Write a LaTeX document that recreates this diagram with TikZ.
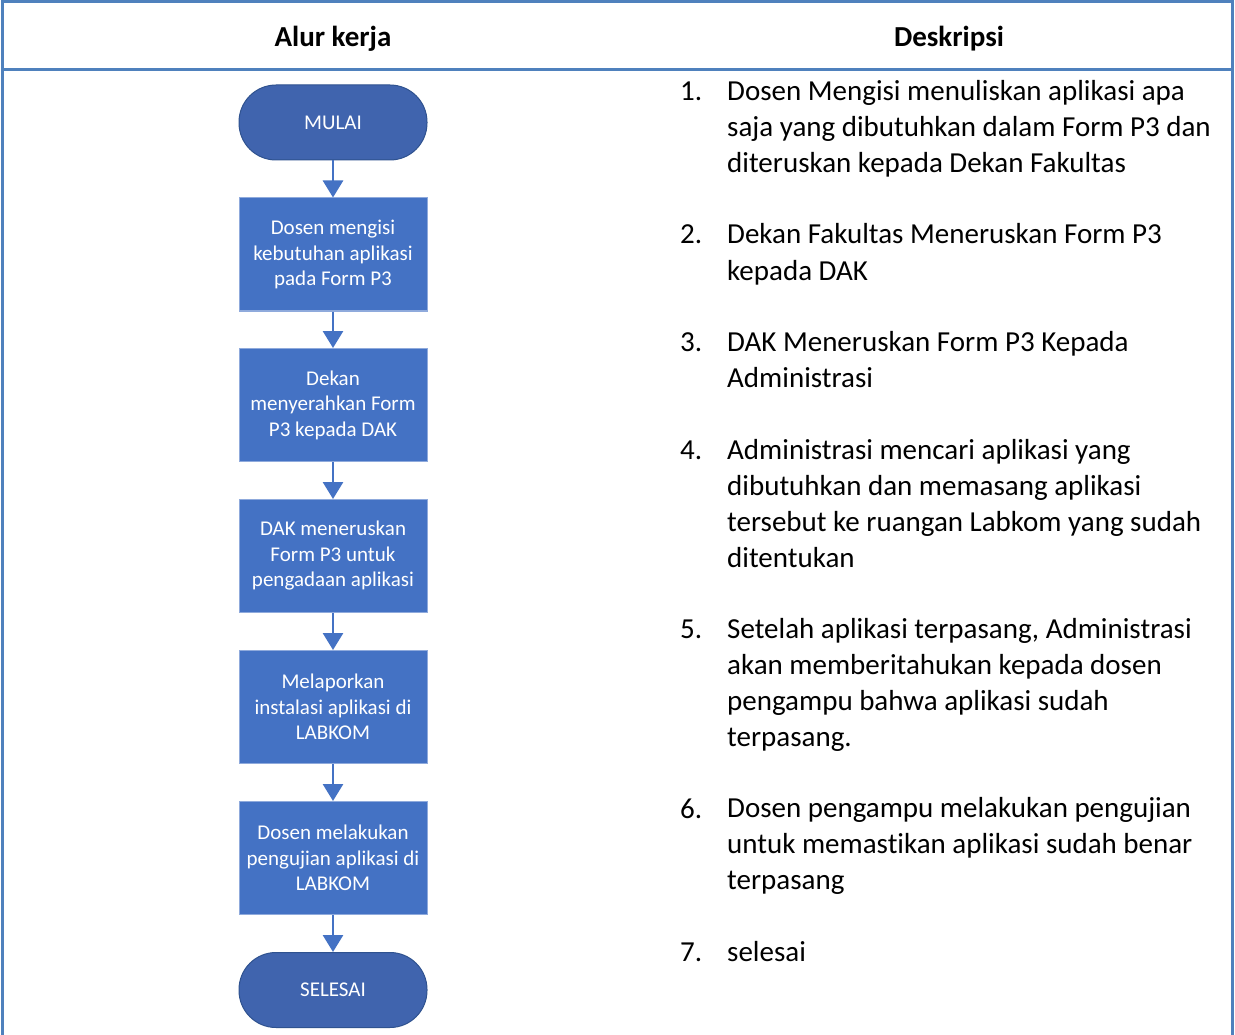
\documentclass[tikz,border=0pt]{standalone}
\usepackage{fontspec}
\setmainfont[Ligatures=NoCommon]{Carlito}
\usetikzlibrary{arrows.meta}
\definecolor{tblue}{HTML}{4F81BD}
\definecolor{boxfill}{HTML}{4472C4}
\definecolor{boxline}{HTML}{8FAADC}
\definecolor{termfill}{HTML}{4064AE}
\definecolor{termline}{HTML}{2F528F}
\tikzset{
  procbox/.style={rectangle, fill=boxfill, draw=boxline, line width=1pt,
    minimum width=188pt, minimum height=113pt, inner sep=2pt, align=center,
    text=white, font=\fontsize{21}{25.5}\selectfont},
  termbox/.style={rectangle, rounded corners=37pt, fill=termfill, draw=termline, line width=1pt,
    minimum width=188pt, minimum height=75pt, align=center,
    text=white, font=\fontsize{21}{25.5}\selectfont},
  flow/.style={draw=boxfill, line width=2.8pt, -{Triangle[width=20pt,length=17pt]}},
  hdr/.style={font=\bfseries\fontsize{29}{35}\selectfont, text=black},
  numtxt/.style={anchor=base west, inner sep=0pt, font=\fontsize{29}{36}\selectfont},
  itemtxt/.style={anchor=base west, inner sep=0pt, align=left, font=\fontsize{29}{36}\selectfont},
}
\begin{document}
\begin{tikzpicture}[x=1pt,y=-1pt]
\useasboundingbox (0,0) rectangle (1235,1035);
\fill[white] (0,0) rectangle (1235,1035);
% table frame
\draw[tblue, line width=3pt] (2,1045) -- (2,2) -- (1232,2) -- (1232,1045);
\draw[tblue, line width=3pt] (2,70) -- (1232,70);
% headers
\node[hdr] (h1) at (333,38.5) {Alur kerja};
\node[hdr] (h2) at (949,38.5) {Deskripsi};
% flowchart
\node[termbox] (start) at (333,122.5) {MULAI};
\node[procbox] (b1) at (333,254.5) {Dosen mengisi\\kebutuhan aplikasi\\pada Form P3};
\node[procbox] (b2) at (333,405) {Dekan\\menyerahkan Form\\P3 kepada DAK};
\node[procbox] (b3) at (333,556) {DAK meneruskan\\Form P3 untuk\\pengadaan aplikasi};
\node[procbox] (b4) at (333,707) {Melaporkan\\instalasi aplikasi di\\LABKOM};
\node[procbox] (b5) at (333,858) {Dosen melakukan\\pengujian aplikasi di\\LABKOM};
\node[termbox] (stop) at (333,990) {SELESAI};
\draw[flow] (start) -- (b1);
\draw[flow] (b1) -- (b2);
\draw[flow] (b2) -- (b3);
\draw[flow] (b3) -- (b4);
\draw[flow] (b4) -- (b5);
\draw[flow] (b5) -- (stop);
% description list (base anchor = baseline of the last line)
\node[numtxt] (n1) at (680,101) {1.};
\node[itemtxt] (t1) at (727,173) {Dosen Mengisi menuliskan aplikasi apa\\saja yang dibutuhkan dalam Form P3 dan\\diteruskan kepada Dekan Fakultas};
\node[numtxt] (n2) at (680,244) {2.};
\node[itemtxt] (t2) at (727,280) {Dekan Fakultas Meneruskan Form P3\\kepada DAK};
\node[numtxt] (n3) at (680,352) {3.};
\node[itemtxt] (t3) at (727,387) {DAK Meneruskan Form P3 Kepada\\Administrasi};
\node[numtxt] (n4) at (680,459) {4.};
\node[itemtxt] (t4) at (727,567) {Administrasi mencari aplikasi yang\\dibutuhkan dan memasang aplikasi\\tersebut ke ruangan Labkom yang sudah\\ditentukan};
\node[numtxt] (n5) at (680,638) {5.};
\node[itemtxt] (t5) at (727,746) {Setelah aplikasi terpasang, Administrasi\\akan memberitahukan kepada dosen\\pengampu bahwa aplikasi sudah\\terpasang.};
\node[numtxt] (n6) at (680,818) {6.};
\node[itemtxt] (t6) at (727,889) {Dosen pengampu melakukan pengujian\\untuk memastikan aplikasi sudah benar\\terpasang};
\node[numtxt] (n7) at (680,961) {7.};
\node[itemtxt] (t7) at (727,961) {selesai};
\end{tikzpicture}
\end{document}
